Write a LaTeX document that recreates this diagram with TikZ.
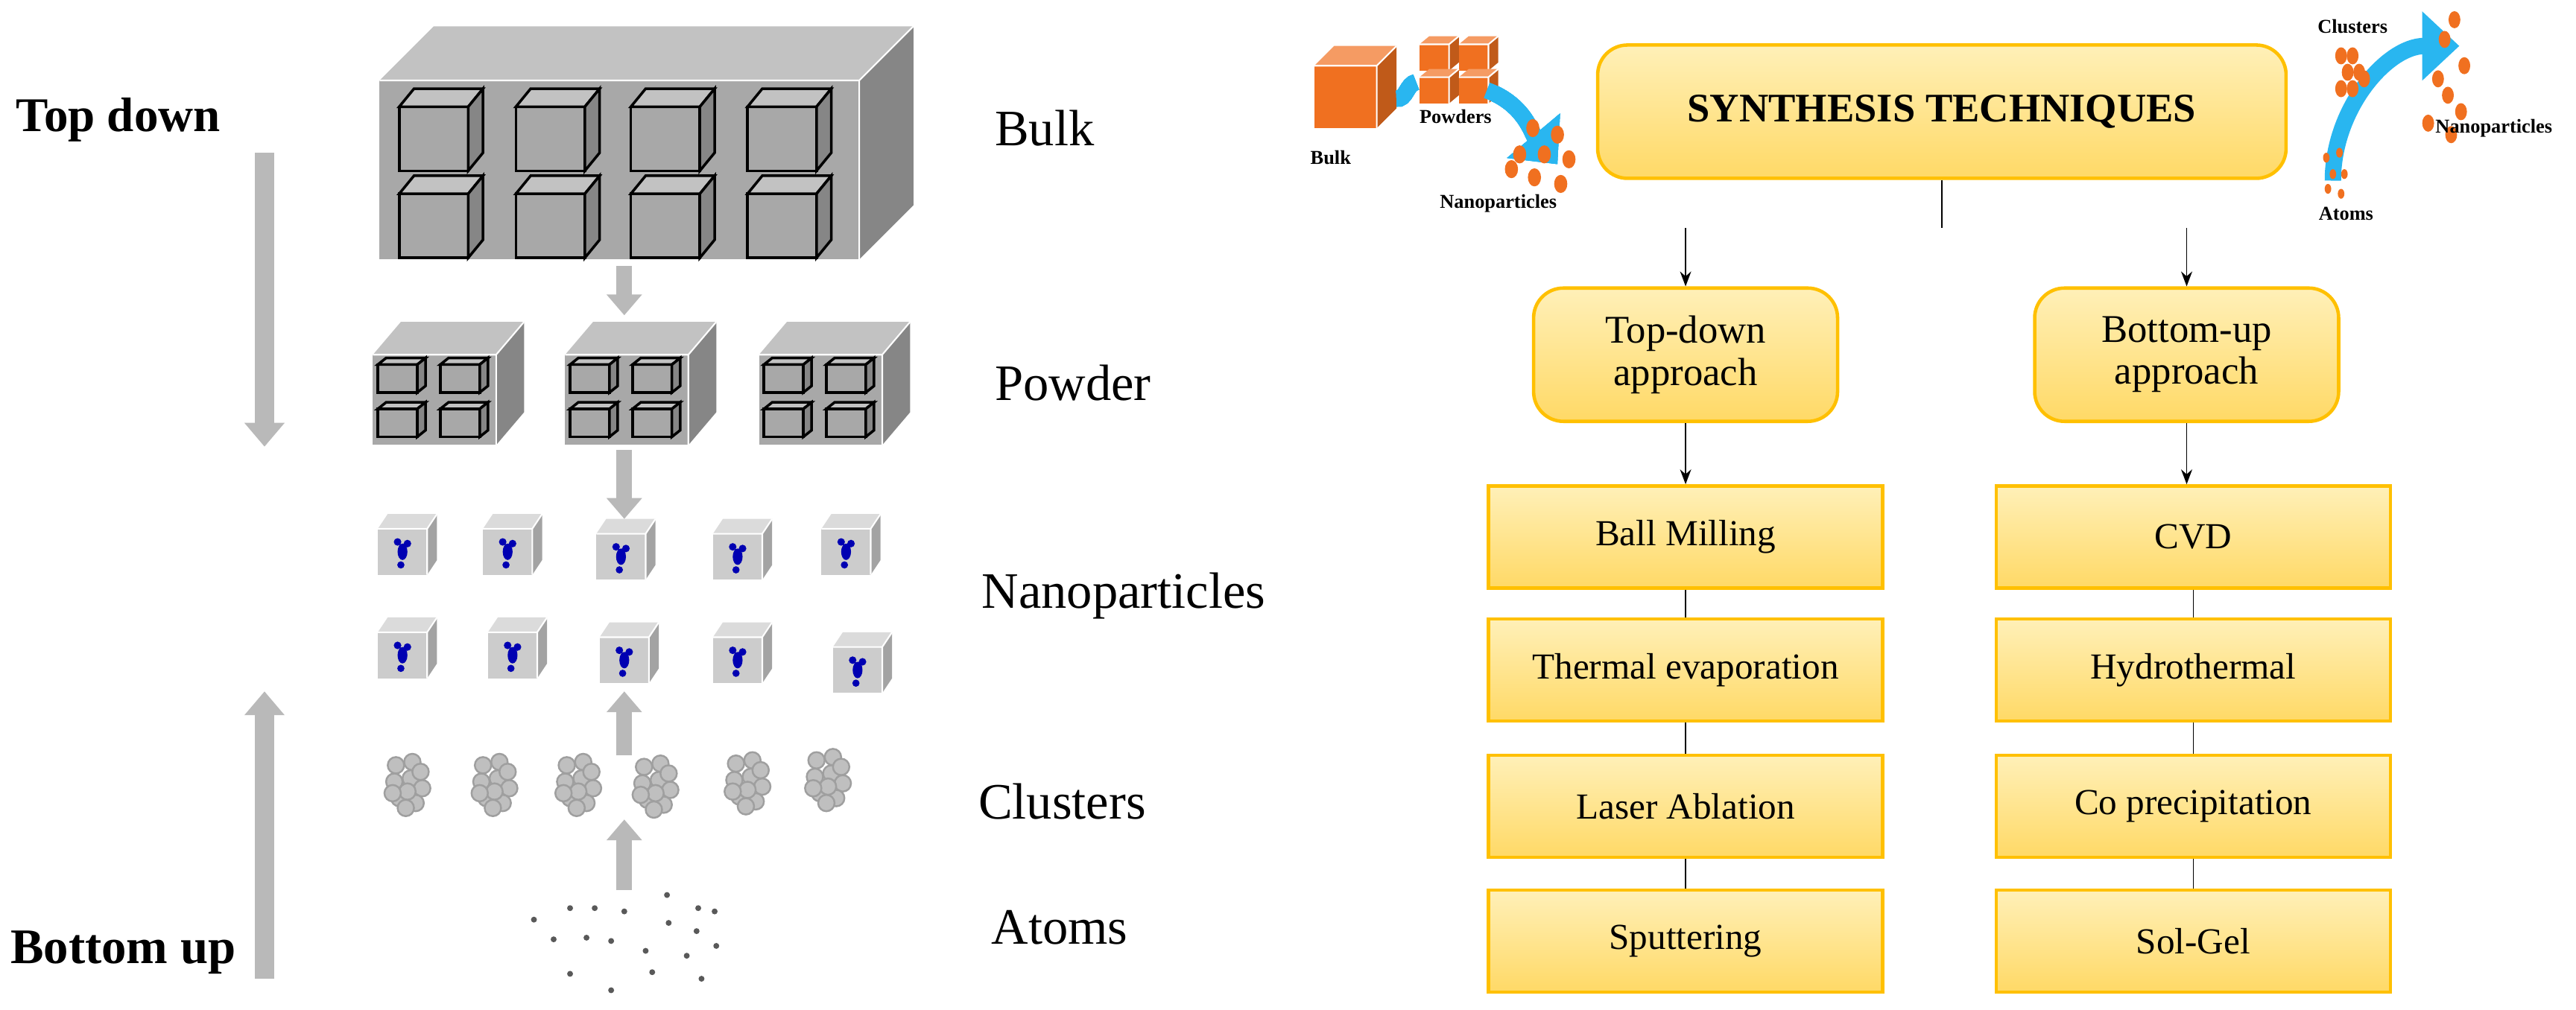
\documentclass[tikz,border=0pt]{standalone}
\usepackage{fontspec}
\setmainfont{Liberation Serif}
\usetikzlibrary{arrows.meta}
\definecolor{gold}{HTML}{FFC000}
\definecolor{paleyel}{HTML}{FFF0B8}
\definecolor{deepyel}{HTML}{FFD966}
\definecolor{orng}{HTML}{F07020}
\definecolor{skyb}{HTML}{29B6F0}
\definecolor{boxg}{HTML}{A8A8A8}
\tikzset{
  garrow/.style={draw=gray!55,line width=2.6mm,-{Triangle[length=3.2mm,width=5.2mm]}},
  sarrow/.style={draw=gray!55,line width=2.1mm,-{Triangle[length=2.8mm,width=4.6mm]}},
  tbox/.style={rectangle,draw=gold,line width=1.3pt,top color=paleyel,bottom color=deepyel,
    minimum width=5.29cm,minimum height=1.37cm,font=\fontsize{14}{16}\selectfont},
  abox/.style={tbox,rounded corners=4mm,minimum width=4.08cm,minimum height=1.79cm,
    align=center,font=\fontsize{15}{16}\selectfont},
  lbl/.style={font=\fontsize{19.5}{21}\selectfont,anchor=west},
  tiny/.style={font=\bfseries\fontsize{7.5}{8}\selectfont},
}
% x y w h dx dy : a box seen from front-right-top
\newcommand\gbox[7][boxg]{%
  \colorlet{bxc}{#1}
  \fill[bxc] (#2,#3) rectangle ++(#4,#5);
  \fill[bxc!70!white] (#2,#3)--++(#6,-#7)--++(#4,0)--++(-#6,#7)--cycle;
  \fill[bxc!80!black] (#2+#4,#3)--++(#6,-#7)--++(0,#5)--++(-#6,#7)--cycle;
  \draw[white,line width=0.6pt] (#2,#3)--++(#4,0)--++(0,#5) (#2+#4,#3)--++(#6,-#7);}
\newcommand\kbox[6]{%
  \draw[line width=1pt,fill=boxg] (#1,#2) rectangle ++(#3,#4);
  \draw[line width=1pt,fill=boxg!70!white] (#1,#2)--++(#5,-#6)--++(#3,0)--++(-#5,#6)--cycle;
  \draw[line width=1pt,fill=boxg!80!black] (#1+#3,#2)--++(#5,-#6)--++(0,#4)--++(-#5,#6)--cycle;}
\begin{document}
\begin{tikzpicture}[x=0.2205mm,y=-0.2205mm]
\useasboundingbox (0,0) rectangle (1568,615);
%%%%% left: top down / bottom up
\node[font=\bfseries\fontsize{18.5}{20}\selectfont] (td) at (72,73) {Top down};
\node[font=\bfseries\fontsize{19}{20}\selectfont] (bu) at (75,580) {Bottom up};
\coordinate (tda) at (161,93); \coordinate (tdb) at (161,272);
\coordinate (bua) at (161,596); \coordinate (bub) at (161,421);
\draw[garrow] (tda)--(tdb);
\draw[garrow] (bua)--(bub);
% bulk
\gbox{231}{49}{292}{109}{33}{33}
\foreach \i in {243,314,384,455}{
  \kbox{\i}{65}{42}{39}{9}{11}
  \kbox{\i}{118}{42}{39}{9}{11}}
% powder
\foreach \px in {227,344,462}{
  \gbox{\px}{216}{75}{55}{17}{20}
  \foreach \a in {0,1}{\foreach \b in {0,1}{
    \kbox{\px+3+\a*38}{222+\b*27}{24}{17}{5}{4}}}}
% nanoparticles
\foreach \nx/\ny in {230/322,294/322,363/325,434/325,500/322,
                     230/385,297/385,365/388,434/388,507/394}{
  \gbox[gray!40]{\nx}{\ny}{30}{28}{6}{9}
  \fill[blue!70!black] (\nx+15,\ny+14) ellipse (3 and 5) (\nx+12,\ny+8) circle (2.3) (\nx+18,\ny+9) circle (2.3) (\nx+14,\ny+22) circle (2.2);}
% clusters
\foreach \cx/\cy in {248/477,301/477,352/477,399/478,455/476,504/474}{
  \foreach \dx/\dy in {-7/-11,3/-13,-8/-1,2/-3,9/3,-5/9,5/12,0/5,8/-7,-1/15,-9/6}
    \draw[gray!75,fill=gray!50,line width=0.7pt] (\cx+\dx,\cy+\dy) circle (5);}
% atoms
\foreach \ax/\ay in {325/560,347/553,362/553,380/555,406/545,407/562,425/553,435/555,
   337/572,357/571,372/573,393/579,418/582,424/567,436/576,
   347/593,372/603,397/592,427/596}
  \fill[gray!70!black] (\ax,\ay) circle (1.8);
% small arrows
\coordinate (s1) at (380,162); \coordinate (s2) at (380,192);
\coordinate (s3) at (380,274); \coordinate (s4) at (380,316);
\coordinate (s5) at (380,460); \coordinate (s6) at (380,421);
\coordinate (s7) at (380,542); \coordinate (s8) at (380,499);
\foreach \p/\q in {s1/s2,s3/s4,s5/s6,s7/s8}
  \draw[sarrow] (\p)--(\q);
% labels
\node[lbl] (bulk) at (600,78) {Bulk};
\node[lbl] (powder) at (600,233) {Powder};
\node[lbl] (nano) at (592,363) {Nanoparticles};
\node[lbl] (clus) at (590,488) {Clusters};
\node[lbl] (atoms) at (598,565) {Atoms};
%%%%% right: synthesis techniques
\node[abox,minimum width=9.24cm,font=\bfseries\fontsize{15.5}{17}\selectfont] (syn) at (1182,68) {SYNTHESIS TECHNIQUES};
\node[abox] (tdap) at (1026,216) {Top-down\\approach};
\node[abox] (buap) at (1331,216) {Bottom-up\\approach};
\coordinate (sa) at (1182,139);
\coordinate (la) at (1026,139); \coordinate (ra) at (1331,139);
\draw (syn.south)--(sa);
\draw[-{Stealth[length=2mm]}] (la)--(tdap.north);
\draw[-{Stealth[length=2mm]}] (ra)--(buap.north);
\foreach \t/\y [count=\k] in {Ball Milling/327,Thermal evaporation/408,Laser Ablation/491,Sputtering/573}{
  \node[tbox] (l\k) at (1026,\y) {\t};
  \node[tbox] (r\k) at (1335,\y) {};}
\foreach \t [count=\k] in {CVD,Hydrothermal,Co precipitation,Sol-Gel}
  \node at (r\k) {\fontsize{14}{16}\selectfont\t};
\draw[-{Stealth[length=2mm]}] (tdap.south)--(l1.north);
\draw[-{Stealth[length=2mm]}] (buap.south)--(buap.south|-r1.north);
\foreach \a/\b in {1/2,2/3,3/4}{
  \draw (l\a)--(l\b); \draw (r\a)--(r\b);}
%%%%% icons
\gbox[orng]{800}{40}{38}{38}{12}{12}
\foreach \a/\b in {864/27,888/27,864/47,888/47}
  \gbox[orng]{\a}{\b}{18}{16}{6}{5}
\draw[skyb,line width=2.2mm,-{Triangle[length=5mm,width=9mm]}] (850,60) to[out=-10,in=190] (862,50)
  (905,55) to[out=-20,in=130] (948,100);
\foreach \ox/\oy in {933/78,948/82,925/94,940/94,955/97,920/103,934/108,950/112}
  \fill[orng] (\ox,\oy) ellipse (4 and 5.5);
\node[tiny] (tbulk) at (810,96) {Bulk};
\node[tiny] (tpow) at (886,71) {Powders};
\node[tiny] (tnano) at (912,124) {Nanoparticles};
\draw[skyb,line width=2.2mm,-{Triangle[length=5mm,width=9mm]}] (1420,110) to[out=90,in=180] (1497,28);
\foreach \ox/\oy in {1425/34,1432/34,1429/44,1436/44,1425/54,1432/54,1439/48}
  \fill[orng] (\ox,\oy) ellipse (3.6 and 5.2);
\foreach \ox/\oy in {1488/24,1494/12,1484/48,1500/40,1490/58,1498/68,1478/75,1492/82}
  \fill[orng] (\ox,\oy) ellipse (3.6 and 5.2);
\foreach \ox/\oy in {1416/96,1424/93,1420/106,1427/106,1417/115,1425/118}
  \fill[orng] (\ox,\oy) ellipse (2 and 3);
\node[tiny] (tclu) at (1432,16) {Clusters};
\node[tiny] (tnano2) at (1518,78) {Nanoparticles};
\node[tiny] (tatoms) at (1428,130) {Atoms};
\end{tikzpicture}
\end{document}
